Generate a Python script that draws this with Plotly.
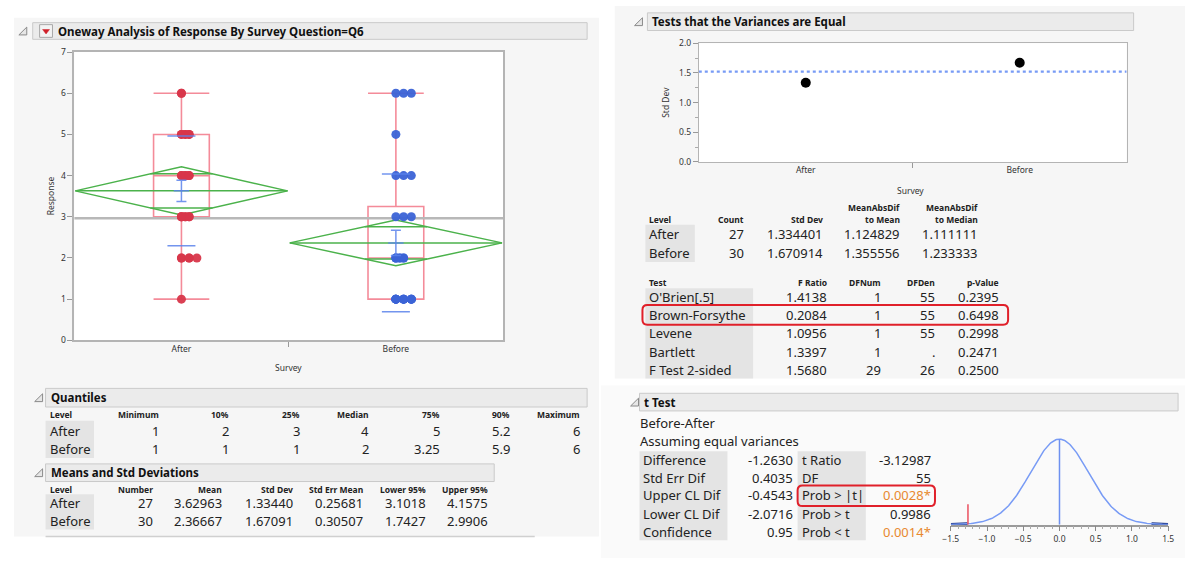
import math
import numpy as np
import plotly.graph_objects as go

# ---------------- data ----------------
levels = ["After", "Before"]
response_values = [1, 2, 3, 4, 5, 6]
after_counts = [1, 5, 7, 6, 6, 2]
before_counts = [13, 7, 3, 3, 1, 3]

quantile_labels = ["Minimum", "10%", "25%", "Median", "75%", "90%", "Maximum"]
after_quantiles = [1, 2, 3, 4, 5, 5.2, 6]
before_quantiles = [1, 1, 1, 2, 3.25, 5.9, 6]

means_cols = ["Number", "Mean", "Std Dev", "Std Err Mean", "Lower 95%", "Upper 95%"]
group_n = [27, 30]
group_mean = [3.62963, 2.36667]
group_sd = [1.33440, 1.67091]
group_se = [0.25681, 0.30507]
group_lower95 = [3.1018, 1.7427]
group_upper95 = [4.1575, 2.9906]

var_std = [1.334401, 1.670914]
var_mad_mean = [1.124829, 1.355556]
var_mad_median = [1.111111, 1.233333]

tests = ["O'Brien[.5]", "Brown-Forsythe", "Levene", "Bartlett", "F Test 2-sided"]
f_ratio = ["1.4138", "0.2084", "1.0956", "1.3397", "1.5680"]
df_num = ["1", "1", "1", "1", "29"]
df_den = ["55", "55", "55", ".", "26"]
p_values = ["0.2395", "0.6498", "0.2998", "0.2471", "0.2500"]

t_labels1 = ["Difference", "Std Err Dif", "Upper CL Dif", "Lower CL Dif", "Confidence"]
t_values1 = ["-1.2630", "0.4035", "-0.4543", "-2.0716", "0.95"]
t_labels2 = ["t Ratio", "DF", "Prob > |t|", "Prob > t", "Prob < t"]
t_values2 = ["-3.12987", "55", "0.0028*", "0.9986", "0.0014*"]
t_significant = [False, False, True, False, True]
t_difference = -1.2630
t_std_err = 0.4035
t_df = 55
t_crit = 2.004  # t(0.975, 55)

# ---------------- helpers ----------------
W, H = 1191, 563
FONT = "Noto Sans"
RED = "#d8364a"
BLUE = "#3b63d6"
LBLUE = "rgba(90,130,235,0.85)"
BOXRED = "rgba(240,90,110,0.7)"
GREEN = "rgb(75,178,75)"
TXT = "#222222"


def X(px):
    return px / W


def Y(py):
    return 1 - py / H


shapes = []
annotations = []


def rect(x0, y0, x1, y1, fill, line=None, lw=1):
    shapes.append(dict(type="rect", xref="paper", yref="paper", x0=X(x0), x1=X(x1),
                       y0=Y(y1), y1=Y(y0), fillcolor=fill, layer="below",
                       line=dict(color=line or fill, width=lw if line else 0)))


def hline(x0, x1, y, color, w=1):
    shapes.append(dict(type="line", xref="paper", yref="paper", x0=X(x0), x1=X(x1),
                       y0=Y(y), y1=Y(y), line=dict(color=color, width=w), layer="below"))


def txt(x, y, s, size=13, anchor="left", color=TXT, bold=False, angle=0):
    if bold:
        s = "<b>" + s + "</b>"
    annotations.append(dict(x=X(x), y=Y(y), xref="paper", yref="paper", text=s,
                            showarrow=False, xanchor=anchor, yanchor="middle",
                            textangle=angle, borderpad=0,
                            font=dict(size=size, color=color, family=FONT)))


def rounded(x0, y0, x1, y1, r=5, color="#e0202a", w=2):
    p = (f"M {X(x0+r)},{Y(y0)} L {X(x1-r)},{Y(y0)} Q {X(x1)},{Y(y0)} {X(x1)},{Y(y0+r)} "
         f"L {X(x1)},{Y(y1-r)} Q {X(x1)},{Y(y1)} {X(x1-r)},{Y(y1)} "
         f"L {X(x0+r)},{Y(y1)} Q {X(x0)},{Y(y1)} {X(x0)},{Y(y1-r)} "
         f"L {X(x0)},{Y(y0+r)} Q {X(x0)},{Y(y0)} {X(x0+r)},{Y(y0)} Z")
    shapes.append(dict(type="path", xref="paper", yref="paper", path=p,
                       line=dict(color=color, width=w), layer="above"))


def header(x0, y0, x1, y1, title, tri_x):
    rect(x0, y0, x1, y1, "#ebebeb", "#cacaca", 1)
    cy = (y0 + y1) / 2
    p = (f"M {X(tri_x-4)},{Y(cy+4)} L {X(tri_x+4)},{Y(cy+4)} L {X(tri_x+4)},{Y(cy-4)} Z")
    shapes.append(dict(type="path", xref="paper", yref="paper", path=p,
                       fillcolor="#e6e6e6", line=dict(color="#8a8a8a", width=1), layer="below"))
    if title:
        txt(x0 + 4, cy, title, size=11.5, bold=True, color="#111")


# ---------------- panel backgrounds ----------------
rect(6, 12, 598, 541, "#f6f6f6")
rect(614, 0, 1191, 380, "#f6f6f6")
rect(600, 387, 1191, 563, "#fafafa")
# plot areas (white)
rect(67, 47, 501, 341, "white")
rect(699, 38, 1132, 159, "white")

# ---------------- headers ----------------
header(25, 17, 586, 34, "", 15)
rect(32, 19, 45, 32, "#f3f3f3", "#a8a8a8", 1)
shapes.append(dict(type="path", xref="paper", yref="paper",
                   path=f"M {X(35)},{Y(24)} L {X(42)},{Y(24)} L {X(38.5)},{Y(28.5)} Z",
                   fillcolor="#d0202a", line=dict(color="#d0202a", width=0.5), layer="below"))
txt(50, 25.5, "Oneway Analysis of Response By Survey Question=Q6", size=11.5, bold=True, color="#111")
header(38, 390, 586, 409, "Quantiles", 31)
header(38, 467, 492, 485, "Means and Std Deviations", 31)
header(647, 7, 1139, 25, "Tests that the Variances are Equal", 638)
header(639, 395, 1184, 413, "t Test", 634)

# ---------------- main oneway plot ----------------
fig = go.Figure()
centers = [i + 0.5 for i in range(len(levels))]
N = sum(group_n)
grand_mean = sum(n * m for n, m in zip(group_n, group_mean)) / N
rmse = math.sqrt(sum((n - 1) * s ** 2 for n, s in zip(group_n, group_sd)) / (N - len(levels)))

fig.add_trace(go.Scatter(x=[0, 2], y=[grand_mean, grand_mean], mode="lines",
                         line=dict(color="#b8b8b8", width=2.5), hoverinfo="skip"))

# means diamonds
HW = 0.495
for c, m, n in zip(centers, group_mean, group_n):
    d = t_crit * rmse / math.sqrt(n)
    ov = d * math.sqrt(2) / 2
    ow = HW * (1 - ov / d)
    xs = [c - HW, c, c + HW, c, c - HW, None, c - HW, c + HW, None,
          c - ow, c + ow, None, c - ow, c + ow]
    ys = [m, m + d, m, m - d, m, None, m, m, None,
          m + ov, m + ov, None, m - ov, m - ov]
    fig.add_trace(go.Scatter(x=xs, y=ys, mode="lines", line=dict(color=GREEN, width=1.5),
                             hoverinfo="skip"))

# box plots
qs = [after_quantiles, before_quantiles]
fig.add_trace(go.Box(x=centers, q1=[q[2] for q in qs], median=[q[3] for q in qs],
                     q3=[q[4] for q in qs], lowerfence=[q[0] for q in qs],
                     upperfence=[q[6] for q in qs], width=0.26, whiskerwidth=1,
                     fillcolor="rgba(0,0,0,0)", line=dict(color=BOXRED, width=1.6),
                     boxpoints=False, hoverinfo="skip"))

# points (jittered to the right of the category centre)
JIT = 0.036
for c, counts, col in zip(centers, [after_counts, before_counts], [RED, BLUE]):
    xs, ys = [], []
    for v, cnt in zip(response_values, counts):
        f = 0 if cnt <= 2 else (0.5 if cnt in (6, 7) else 1)
        for k in range(cnt):
            xs.append(c + (k % 3) * JIT * f)
            ys.append(v)
    fig.add_trace(go.Scatter(x=xs, y=ys, mode="markers",
                             marker=dict(color=col, size=9, opacity=0.95), hoverinfo="skip"))

# mean error bars and std dev lines
fig.add_trace(go.Scatter(x=centers, y=group_mean, mode="markers",
                         marker=dict(symbol="line-ew", size=11, color=LBLUE,
                                     line=dict(color=LBLUE, width=1.5)),
                         error_y=dict(type="data", array=group_se, color=LBLUE, thickness=1.5, width=5),
                         hoverinfo="skip"))
fig.add_trace(go.Scatter(x=centers + centers,
                         y=[m + s for m, s in zip(group_mean, group_sd)] + [m - s for m, s in zip(group_mean, group_sd)],
                         mode="markers",
                         marker=dict(symbol="line-ew", size=20, color=LBLUE,
                                     line=dict(color=LBLUE, width=1.5)),
                         hoverinfo="skip"))

# ---------------- variance chart ----------------
fig.add_trace(go.Scatter(x=[0, 2], y=[rmse, rmse], mode="lines", xaxis="x2", yaxis="y2",
                         line=dict(color="rgb(120,155,245)", width=2.2, dash="dot"), hoverinfo="skip"))
fig.add_trace(go.Scatter(x=centers, y=var_std, mode="markers", xaxis="x2", yaxis="y2",
                         marker=dict(color="black", size=10), hoverinfo="skip"))

# ---------------- t density ----------------
tx = np.linspace(-1.5, 1.5, 301)
tt = tx / t_std_err
logc = math.lgamma((t_df + 1) / 2) - math.lgamma(t_df / 2) - 0.5 * math.log(t_df * math.pi)
dens = np.exp(logc - (t_df + 1) / 2 * np.log1p(tt ** 2 / t_df))
dmax = float(dens.max())
left = tx <= t_difference
right = tx >= -t_difference
fig.add_trace(go.Scatter(x=tx[left], y=dens[left], mode="lines", fill="tozeroy", xaxis="x3", yaxis="y3",
                         fillcolor="#1d3585", line=dict(color="#1d3585", width=3), hoverinfo="skip"))
fig.add_trace(go.Scatter(x=tx[right], y=dens[right], mode="lines", fill="tozeroy", xaxis="x3", yaxis="y3",
                         fillcolor="#1d3585", line=dict(color="#1d3585", width=3), hoverinfo="skip"))
fig.add_trace(go.Scatter(x=tx, y=dens, mode="lines", xaxis="x3", yaxis="y3",
                         line=dict(color="rgb(120,155,245)", width=1.5), hoverinfo="skip"))
fig.add_trace(go.Scatter(x=[0, 0], y=[0, dmax], mode="lines", xaxis="x3", yaxis="y3",
                         line=dict(color="rgb(110,145,240)", width=1.5), hoverinfo="skip"))
fig.add_trace(go.Scatter(x=[t_difference, t_difference], y=[0, 0.24 * dmax], mode="lines",
                         xaxis="x3", yaxis="y3",
                         line=dict(color="rgb(235,80,95)", width=1.5), hoverinfo="skip"))

# ---------------- axis titles ----------------
txt(36, 194, "Response", size=8.5, angle=-90, color="#333")
txt(284, 369, "Survey", size=8.5, anchor="center", color="#333")
txt(658, 98, "Std Dev", size=8.5, angle=-90, color="#333")
txt(913, 188, "Survey", size=8.5, anchor="center", color="#333")

# ---------------- quantiles table ----------------
q_right = [154, 225, 296, 366, 438, 509, 580]
rect(38, 423, 87, 461, "#e4e4e4")
txt(41, 417, "Level", size=8.5, bold=True)
for lab, xr in zip(quantile_labels, q_right):
    txt(xr, 417, lab, size=8.5, bold=True, anchor="right")
for lvl, qv, yy in zip(levels, qs, [433, 452]):
    txt(41, yy, lvl, size=13)
    for v, xr in zip(qv, q_right):
        txt(xr, yy, f"{v:g}", size=13, anchor="right")

# ---------------- means table ----------------
m_right = [148, 218, 289, 360, 424, 487]
rect(38, 498, 87, 534, "#e4e4e4")
txt(41, 493, "Level", size=8.5, bold=True)
for lab, xr in zip(means_cols, m_right):
    txt(xr, 493, lab, size=8.5, bold=True, anchor="right")
for i, (lvl, yy) in enumerate(zip(levels, [507, 525])):
    txt(41, yy, lvl, size=13)
    vals = [f"{group_n[i]}", f"{group_mean[i]:.5f}", f"{group_sd[i]:.5f}", f"{group_se[i]:.5f}",
            f"{group_lower95[i]:.4f}", f"{group_upper95[i]:.4f}"]
    for v, xr in zip(vals, m_right):
        txt(xr, yy, v, size=13, anchor="right")
hline(38, 533, 541, "#d0d0d0", 1.5)

# ---------------- variance tables ----------------
v_right = [746, 826, 904, 983]
rect(645, 223, 695, 261, "#e4e4e4")
txt(648, 218, "Level", size=8.5, bold=True)
txt(v_right[0], 218, "Count", size=8.5, bold=True, anchor="right")
txt(v_right[1], 218, "Std Dev", size=8.5, bold=True, anchor="right")
txt(v_right[2], 206, "MeanAbsDif", size=8.5, bold=True, anchor="right")
txt(v_right[2], 218, "to Mean", size=8.5, bold=True, anchor="right")
txt(v_right[3], 206, "MeanAbsDif", size=8.5, bold=True, anchor="right")
txt(v_right[3], 218, "to Median", size=8.5, bold=True, anchor="right")
for i, (lvl, yy) in enumerate(zip(levels, [233, 252])):
    txt(648, yy, lvl, size=13)
    vals = [f"{group_n[i]}", f"{var_std[i]:.6f}", f"{var_mad_mean[i]:.6f}", f"{var_mad_median[i]:.6f}"]
    for v, xr in zip(vals, v_right):
        txt(xr, yy, v, size=13, anchor="right")

t_right = [830, 884, 939, 1004]
rect(645, 288, 754, 380, "#e4e4e4")
txt(648, 282, "Test", size=8.5, bold=True)
for lab, xr in zip(["F Ratio", "DFNum", "DFDen", "p-Value"], t_right):
    txt(xr, 282, lab, size=8.5, bold=True, anchor="right")
for i, yy in enumerate([297, 315.5, 334, 352.5, 371]):
    txt(648, yy, tests[i], size=13)
    for v, xr in zip([f_ratio[i], df_num[i], df_den[i], p_values[i]], t_right):
        txt(xr, yy, v, size=13, anchor="right")
rounded(642, 305, 1012, 325)

# ---------------- t test table ----------------
txt(638, 425, "Before-After", size=13)
txt(638, 444, "Assuming equal variances", size=13)
rect(639, 454, 728, 545, "#e4e4e4")
rect(799, 454, 868, 545, "#e4e4e4")
for i, yy in enumerate([463, 481, 499, 518, 536]):
    txt(642, yy, t_labels1[i], size=13)
    txt(795, yy, t_values1[i], size=13, anchor="right")
    txt(802, yy, t_labels2[i], size=13)
    txt(935, yy, t_values2[i], size=13, anchor="right",
        color="#e8892e" if t_significant[i] else TXT)
rounded(799, 489, 938, 510)

# ---------------- layout ----------------
tickfont = dict(size=8.5, color="#333", family=FONT)
fig.update_layout(
    width=W, height=H, margin=dict(l=0, r=0, t=0, b=0),
    paper_bgcolor="white", plot_bgcolor="white", showlegend=False,
    boxmode="overlay",
    xaxis=dict(domain=[X(67), X(501)], range=[0, 2], tickvals=centers, ticktext=levels,
               ticks="", showgrid=False, zeroline=False, showline=True, linecolor="#b4b4b4",
               linewidth=1.5, mirror=True, tickfont=tickfont,
               minor=dict(tickvals=[1], ticks="outside", ticklen=5, tickcolor="#999")),
    yaxis=dict(domain=[Y(341), Y(47)], range=[0, 7], dtick=1, ticks="outside", ticklen=5,
               tickcolor="#999", showgrid=False, zeroline=False, showline=True,
               linecolor="#b4b4b4", linewidth=1.5, mirror=True, tickfont=tickfont),
    xaxis2=dict(domain=[X(699), X(1132)], range=[0, 2], tickvals=centers, ticktext=levels,
                ticks="", showgrid=False, zeroline=False, showline=True, linecolor="#b4b4b4",
                mirror=True, tickfont=tickfont, anchor="y2",
                minor=dict(tickvals=[1], ticks="outside", ticklen=5, tickcolor="#999")),
    yaxis2=dict(domain=[Y(159), Y(38)], range=[0, 2], dtick=0.5, tickformat=".1f",
                ticks="outside", ticklen=5, tickcolor="#999", showgrid=False, zeroline=False,
                showline=True, linecolor="#b4b4b4", mirror=True, tickfont=tickfont, anchor="x2",
                minor=dict(dtick=0.25, ticks="outside", ticklen=3, tickcolor="#aaa")),
    xaxis3=dict(domain=[X(954), X(1174)], range=[-1.5, 1.5], dtick=0.5, tickformat=".1f",
                ticks="outside", ticklen=5, tickcolor="#888", showgrid=False, zeroline=False,
                showline=True, linecolor="#9a9a9a", linewidth=1.5, tickfont=tickfont, anchor="y3",
                minor=dict(dtick=0.1, ticks="outside", ticklen=3, tickcolor="#aaa")),
    yaxis3=dict(domain=[Y(529), Y(440)], range=[0, dmax * 1.02], visible=False, anchor="x3"),
    shapes=shapes, annotations=annotations,
)

fig.write_html("out.html", config={"displayModeBar": False},
               post_script="document.body.style.margin='0';"
                           "document.documentElement.style.overflow='hidden';")
